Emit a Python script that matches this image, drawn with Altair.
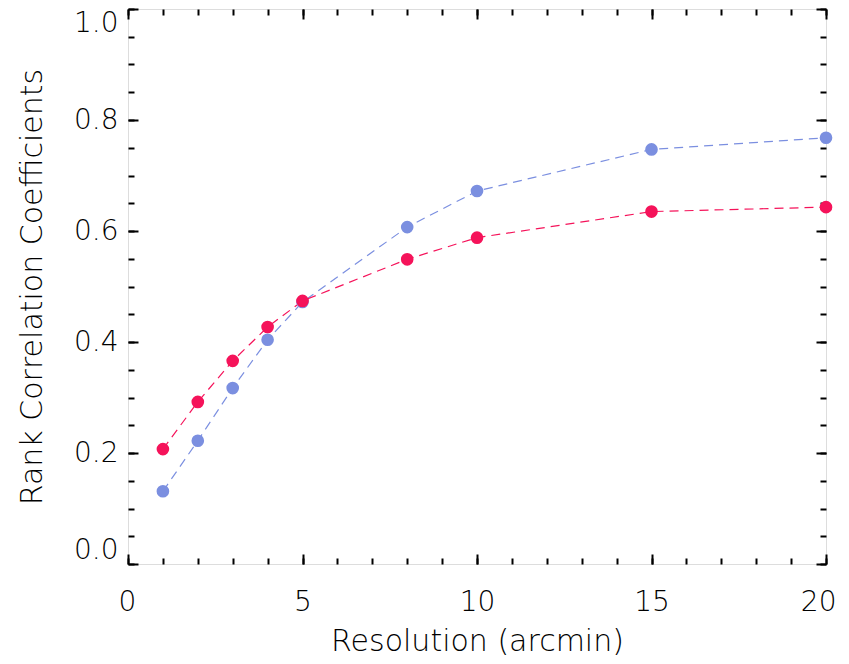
import altair as alt
import pandas as pd

resolution = [1, 2, 3, 4, 5, 8, 10, 15, 20]
blue_vals = [0.131, 0.222, 0.317, 0.404, 0.472, 0.607, 0.672, 0.747, 0.768]
red_vals = [0.207, 0.292, 0.366, 0.427, 0.474, 0.549, 0.588, 0.635, 0.643]
series_names = ["blue", "red"]
series_colors = ["#7b8fe0", "#f5135a"]

x_major = [0, 5, 10, 15, 20]
x_minor = list(range(0, 21))
y_major = [0.0, 0.2, 0.4, 0.6, 0.8, 1.0]
y_minor = [round(i * 0.05, 2) for i in range(21)]

rows = []
for x, b, r in zip(resolution, blue_vals, red_vals):
    rows.append({"res": x, "val": b, "series": "blue"})
    rows.append({"res": x, "val": r, "series": "red"})
df = pd.DataFrame(rows)

W, H = 698, 555
FONT = "DejaVu Sans"
xscale = alt.Scale(domain=[0, 20], nice=False, zero=False)
yscale = alt.Scale(domain=[0, 1], nice=False, zero=False)
color = alt.Color("series:N", scale=alt.Scale(domain=series_names, range=series_colors), legend=None)


def axis_layer(orient, values, size, labels=False, title=None, fmt=None,
               label_pad=14, title_pad=4, flush=False, flush_off=0):
    base = dict(orient=orient, values=values, tickSize=size, offset=-size,
                domain=False, grid=False, tickColor="black", tickWidth=2,
                labels=labels, title=title)
    if labels:
        base.update(labelFont=FONT, labelFontSize=28, labelColor="black",
                    labelFontWeight=300,
                    labelPadding=label_pad, labelFlush=flush, labelOverlap=False)
        if flush and flush_off:
            base["labelFlushOffset"] = flush_off
        if fmt:
            base["format"] = fmt
    if title:
        base.update(titleFont=FONT, titleFontSize=30, titleFontWeight=300,
                    titleColor="black", titlePadding=title_pad)
    return alt.Axis(**base)


lines = alt.Chart(df).mark_line(strokeDash=[9, 6], strokeWidth=1.2).encode(
    x=alt.X("res:Q", scale=xscale,
            axis=axis_layer("bottom", x_major, 10, labels=True,
                            title="Resolution (arcmin)", fmt="d",
                            label_pad=24, title_pad=10, flush=True, flush_off=10)),
    y=alt.Y("val:Q", scale=yscale,
            axis=axis_layer("left", y_major, 10, labels=True,
                            title="Rank Correlation Coefficients", fmt=".1f",
                            label_pad=10, title_pad=26, flush=True)),
    color=color,
    detail="series:N",
)
points = alt.Chart(df).mark_circle(size=160, opacity=1).encode(
    x=alt.X("res:Q", scale=xscale, axis=axis_layer("top", x_major, 10)),
    y=alt.Y("val:Q", scale=yscale, axis=axis_layer("right", y_major, 10)),
    color=color,
)
inv1 = alt.Chart(df).mark_point(opacity=0).encode(
    x=alt.X("res:Q", scale=xscale, axis=axis_layer("bottom", x_minor, 6)),
    y=alt.Y("val:Q", scale=yscale, axis=axis_layer("left", y_minor, 6)),
)
inv2 = alt.Chart(df).mark_point(opacity=0).encode(
    x=alt.X("res:Q", scale=xscale, axis=axis_layer("top", x_minor, 6)),
    y=alt.Y("val:Q", scale=yscale, axis=axis_layer("right", y_minor, 6)),
)

chart = alt.layer(inv1, inv2, lines, points).resolve_axis(
    x="independent", y="independent"
).properties(
    width=W, height=H,
    autosize=alt.AutoSizeParams(type="none"),
    padding={"left": 120, "top": 1, "right": 15, "bottom": 92},
).configure_view(stroke="black", strokeWidth=2).configure(background="white")

chart.save("out.html", embed_options={"renderer": "svg", "actions": False})
